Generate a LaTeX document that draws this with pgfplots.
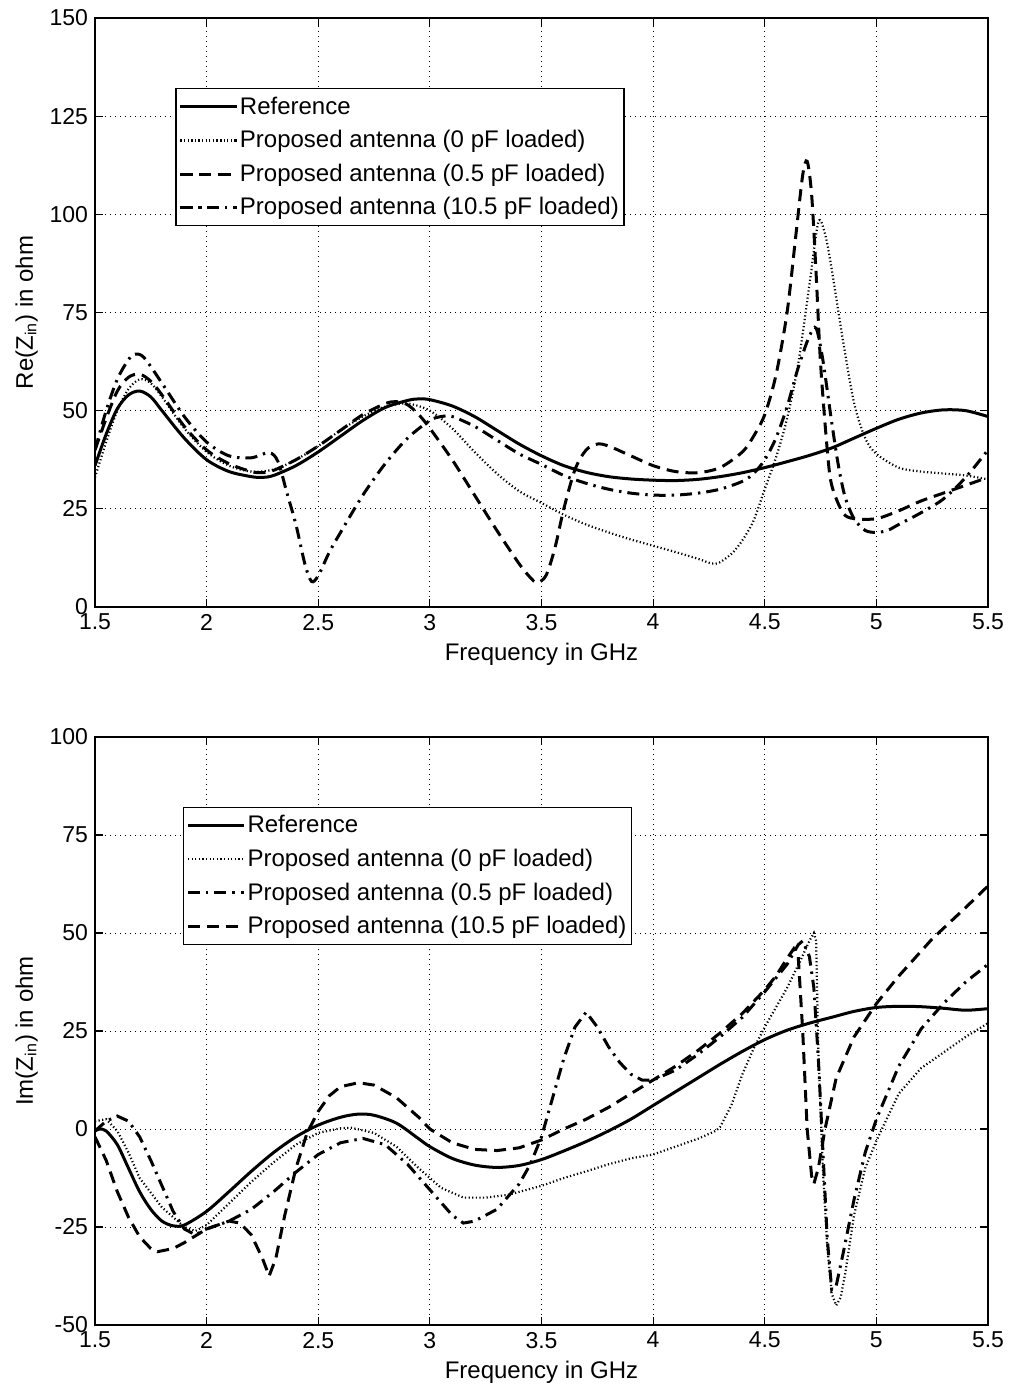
\documentclass[border=0pt]{standalone}
\usepackage{pgfplots}
\pgfplotsset{compat=1.18}
\usepackage{fontspec}
\setmainfont{Liberation Sans}
\pgfplotsset{
  mystyle/.style={
    scale only axis, width=446.5pt, height=294.5pt,
    xmin=1.5, xmax=5.5, xtick={1.5,2,...,5.5},
    xticklabels={1.5,2,2.5,3,3.5,4,4.5,5,5.5},
    grid=major,
    major grid style={black, line width=0.4pt, dash pattern=on 0.5pt off 2pt},
    tick align=inside, major tick length=4pt,
    axis line style={line width=0.7pt},
    every tick/.style={black, line width=0.6pt},
    tick label style={font=\fontsize{11.5}{13}\selectfont},
    label style={font=\fontsize{12}{14}\selectfont},
    /pgf/number format/assume math mode=true,
    xlabel={Frequency in GHz},
    xlabel style={yshift=0.5pt},
    ylabel style={yshift=-1pt},
    legend cell align=left,
    legend style={draw=black, line width=0.6pt, fill=white, font=\fontsize{12}{14}\selectfont,
      inner xsep=1.5pt, inner ysep=2pt, row sep=2.6pt, anchor=north west,
      nodes={inner xsep=1pt}},
    legend image code/.code={\draw[#1] plot coordinates {(0pt,0pt) (14pt,0pt) (28pt,0pt)};},
  },
  solidl/.style={black, line width=1.5pt, solid},
  dotl/.style={black, line width=1.1pt, dash pattern=on 0.6pt off 1.2pt},
  dashl/.style={black, line width=1.5pt, dash pattern=on 6pt off 3.5pt},
  dashdotl/.style={black, line width=1.5pt, dash pattern=on 6pt off 3pt on 1.2pt off 3pt},
}
\begin{document}
\begin{tikzpicture}
\useasboundingbox (-47.5pt,-389.5pt) rectangle (457.5pt,303.5pt);
\begin{axis}[mystyle, at={(0pt,0pt)}, anchor=south west,
  ymin=0, ymax=150, ytick={0,25,...,150},
  ylabel={Re(Z\textsubscript{in}) in ohm},
  legend style={at={(0.09,0.881)}}]
\addplot[solidl, smooth] coordinates {
(1.5,36) (1.55,44) (1.6,50.5) (1.65,54) (1.7,55) (1.75,53.5) (1.8,50) (1.9,43) (2.0,37.5) (2.1,34.5) (2.2,33.2) (2.25,33) (2.3,33.5) (2.4,36) (2.5,39.5) (2.6,43.5) (2.7,47.5) (2.8,50.8) (2.9,52.6) (2.95,53) (3.0,52.8) (3.1,51.2) (3.2,48.5) (3.3,45) (3.4,41.5) (3.5,38.5) (3.6,36) (3.7,34.3) (3.8,33.2) (3.9,32.6) (4.0,32.3) (4.1,32.2) (4.2,32.5) (4.3,33.2) (4.4,34.2) (4.5,35.5) (4.6,37) (4.7,38.6) (4.8,40.5) (4.9,43) (5.0,45.5) (5.1,47.8) (5.2,49.4) (5.3,50.2) (5.4,50) (5.5,48.5)};
\addlegendentry{Reference}
\addplot[dotl, smooth] coordinates {
(1.5,33) (1.55,42) (1.6,50) (1.65,55.5) (1.7,58) (1.75,57) (1.8,53.5) (1.9,45.5) (2.0,39.5) (2.1,36) (2.2,34.5) (2.3,35) (2.4,37.5) (2.5,41) (2.6,45) (2.7,48.5) (2.8,51) (2.9,51.8) (3.0,50) (3.1,45.5) (3.2,39.5) (3.3,34) (3.4,29.5) (3.5,26.5) (3.6,23.5) (3.7,21) (3.8,19) (3.9,17.2) (4.0,15.6) (4.1,14) (4.2,12.3) (4.28,11) (4.35,13.5) (4.4,17) (4.45,22) (4.5,30) (4.55,38) (4.6,48) (4.65,62) (4.7,82) (4.74,98) (4.77,95) (4.8,86) (4.85,68) (4.9,52) (4.95,43) (5.0,39) (5.1,35.5) (5.2,34.5) (5.3,34) (5.4,33.5) (5.5,32.5)};
\addlegendentry{Proposed antenna (0 pF loaded)}
\addplot[dashl, smooth] coordinates {
(1.5,40) (1.55,48) (1.6,55) (1.65,58.5) (1.7,59.3) (1.75,57.5) (1.8,54) (1.9,46) (2.0,40) (2.1,36.5) (2.2,34.5) (2.25,34.2) (2.3,34.8) (2.4,37.5) (2.5,41) (2.6,45) (2.7,49) (2.8,51.8) (2.85,52.3) (2.9,51.5) (2.95,49) (3.0,45.5) (3.1,37.5) (3.2,28.5) (3.3,19.5) (3.4,11) (3.45,7.5) (3.48,6.2) (3.52,8) (3.56,15) (3.6,25) (3.65,35) (3.7,40) (3.75,41.5) (3.8,41) (3.9,38.5) (4.0,36) (4.1,34.5) (4.2,34.2) (4.3,35.5) (4.4,39.5) (4.45,43.5) (4.5,49) (4.55,59) (4.6,75) (4.64,95) (4.67,110) (4.69,113.5) (4.71,105) (4.73,85) (4.75,62) (4.78,40) (4.8,31) (4.85,24) (4.9,22.5) (5.0,22.5) (5.1,24.5) (5.2,27) (5.3,29) (5.4,31) (5.5,33)};
\addlegendentry{Proposed antenna (0.5 pF loaded)}
\addplot[dashdotl, smooth] coordinates {
(1.5,40) (1.55,50) (1.6,58) (1.65,63) (1.68,64.4) (1.72,63.5) (1.8,57) (1.9,48.5) (2.0,42) (2.1,38.5) (2.2,38) (2.28,39.3) (2.32,37) (2.36,29) (2.4,21) (2.44,11) (2.47,6.5) (2.5,8) (2.55,14) (2.6,19) (2.7,28.5) (2.8,36.5) (2.9,43) (3.0,47.5) (3.05,48.5) (3.1,48.5) (3.2,46) (3.3,42.5) (3.4,39) (3.5,36.3) (3.6,33.5) (3.7,31.5) (3.8,30) (3.9,29) (4.0,28.5) (4.1,28.5) (4.2,29) (4.3,30) (4.4,32) (4.45,34) (4.5,37.5) (4.55,43) (4.6,51) (4.65,61) (4.7,69) (4.73,71) (4.76,63) (4.8,47) (4.83,36) (4.86,28) (4.9,22.5) (4.95,19.5) (5.0,19) (5.05,19.5) (5.1,21) (5.2,24) (5.3,27.5) (5.4,33) (5.5,40)};
\addlegendentry{Proposed antenna (10.5 pF loaded)}
\end{axis}
\begin{axis}[mystyle, at={(0pt,-65pt)}, anchor=north west, height=294pt,
  ymin=-50, ymax=100, ytick={-50,-25,...,100},
  ylabel={Im(Z\textsubscript{in}) in ohm},
  legend style={at={(0.0985,0.881)}}]
\addplot[solidl, smooth] coordinates {
(1.5,-0.5) (1.52,0) (1.55,-0.5) (1.6,-4) (1.65,-10) (1.7,-16) (1.75,-20.5) (1.8,-23.5) (1.85,-24.7) (1.9,-24.5) (2.0,-21) (2.1,-16) (2.2,-10.8) (2.3,-6) (2.4,-2) (2.5,1) (2.6,3) (2.68,3.8) (2.75,3.5) (2.85,1.5) (2.95,-2.5) (3.0,-4.5) (3.1,-7.5) (3.2,-9.2) (3.3,-9.8) (3.4,-9.3) (3.5,-7.8) (3.6,-5.6) (3.7,-3.2) (3.8,-0.5) (3.9,2.5) (4.0,6) (4.1,9.5) (4.2,13) (4.3,16.5) (4.4,19.8) (4.5,22.8) (4.6,25.2) (4.7,27) (4.8,28.5) (4.9,30) (5.0,31) (5.1,31.3) (5.2,31.2) (5.3,30.8) (5.4,30.3) (5.5,30.7)};
\addlegendentry{Reference}
\addplot[dotl] coordinates {
(1.5,2) (1.55,2.5) (1.6,-0.5) (1.65,-6) (1.7,-12.5) (1.8,-20) (1.9,-25) (1.95,-26) (2.0,-24.5) (2.1,-19) (2.2,-13.5) (2.3,-8.5) (2.4,-4) (2.5,-1) (2.6,0.2) (2.65,0.3) (2.75,-1) (2.85,-4.5) (2.95,-10) (3.05,-15) (3.15,-17.5) (3.25,-17.5) (3.35,-16.8) (3.5,-14.5) (3.6,-12.5) (3.7,-10.8) (3.8,-9) (3.9,-7.5) (4.0,-6.5) (4.1,-4.5) (4.2,-2.5) (4.28,-0.5) (4.3,0.5) (4.35,6) (4.4,14) (4.45,20.5) (4.5,26) (4.55,31) (4.6,36) (4.66,43) (4.7,48) (4.72,50) (4.73,48) (4.74,20) (4.76,-10) (4.78,-30) (4.8,-42) (4.82,-45) (4.84,-43) (4.86,-37) (4.9,-22) (4.95,-10) (5.0,-3) (5.1,9) (5.2,15.5) (5.3,19.5) (5.4,23.5) (5.5,27)};
\addlegendentry{Proposed antenna (0 pF loaded)}
\addplot[dashdotl] coordinates {
(1.5,-0.5) (1.55,2) (1.6,3.3) (1.65,2) (1.7,-2) (1.75,-8) (1.8,-14.5) (1.85,-21) (1.9,-25.5) (1.95,-27) (2.0,-25.5) (2.05,-24.5) (2.1,-23.5) (2.2,-20.5) (2.3,-16) (2.4,-11) (2.5,-6.5) (2.6,-3.5) (2.7,-2.4) (2.8,-4) (2.9,-9) (3.0,-15.5) (3.1,-22) (3.15,-24) (3.2,-23.5) (3.3,-20.5) (3.4,-14) (3.45,-9) (3.5,-2) (3.55,8) (3.6,18) (3.65,26) (3.7,29.8) (3.75,26) (3.8,21) (3.85,17) (3.9,14) (3.95,12.5) (4.0,12.5) (4.1,15) (4.2,19) (4.3,23.5) (4.4,28.5) (4.5,35) (4.6,42) (4.65,47) (4.67,48) (4.7,44) (4.72,36) (4.74,18) (4.76,-5) (4.78,-28) (4.8,-41) (4.82,-40) (4.85,-32) (4.9,-18) (4.95,-6) (5.0,2.5) (5.1,16) (5.2,25.5) (5.3,32) (5.4,37.5) (5.5,42)};
\addlegendentry{Proposed antenna (0.5 pF loaded)}
\addplot[dashl] coordinates {
(1.5,-2) (1.55,-8) (1.6,-16) (1.65,-22.5) (1.7,-27.5) (1.75,-30.5) (1.78,-31.3) (1.85,-30.5) (1.9,-29) (2.0,-25.5) (2.1,-23.5) (2.15,-24) (2.2,-27) (2.25,-33) (2.28,-37.5) (2.31,-33) (2.35,-22) (2.4,-10) (2.45,-1) (2.5,4.5) (2.55,8.5) (2.6,10.8) (2.68,11.8) (2.75,11.2) (2.85,8) (2.95,3) (3.0,0) (3.1,-3.5) (3.2,-5.2) (3.3,-5.5) (3.4,-4.8) (3.5,-2.8) (3.6,0) (3.7,2.5) (3.8,5.5) (3.9,9) (4.0,12.5) (4.1,16) (4.2,20) (4.3,24.5) (4.4,29.5) (4.5,35.5) (4.55,39) (4.6,43.5) (4.63,46) (4.65,44) (4.67,25) (4.69,0) (4.71,-12) (4.72,-14) (4.74,-10) (4.77,0) (4.82,13) (4.9,23.5) (5.0,32) (5.1,39) (5.25,48.5) (5.4,56.5) (5.5,62)};
\addlegendentry{Proposed antenna (10.5 pF loaded)}
\end{axis}
\end{tikzpicture}
\end{document}
